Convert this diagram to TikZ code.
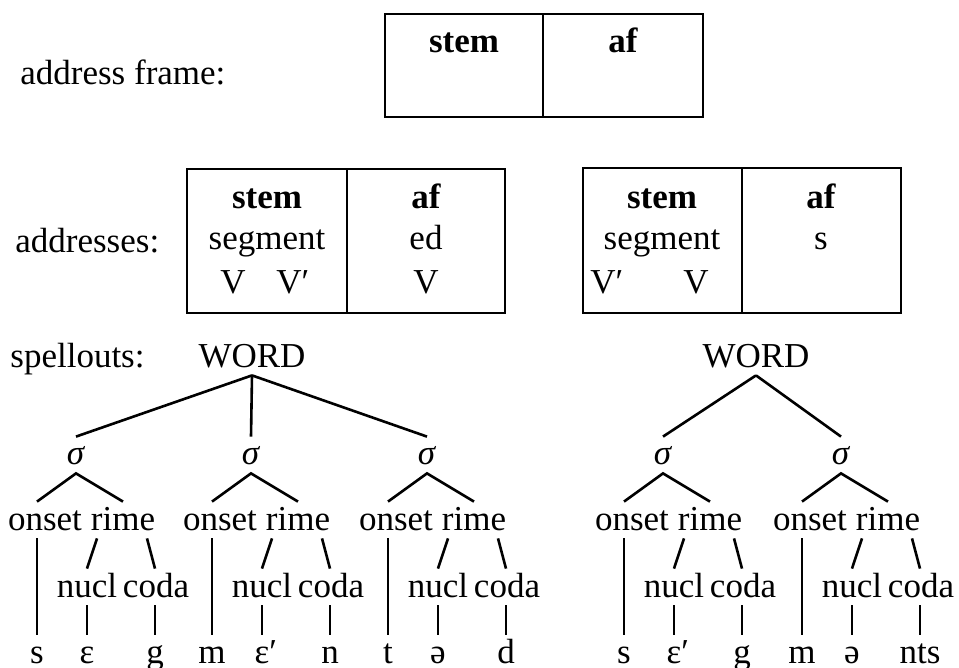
\documentclass[tikz,border=0pt]{standalone}
\usepackage{fontspec}
\setmainfont{Liberation Serif}
\usetikzlibrary{calc,positioning}

\tikzset{
  txt/.style = {anchor=base, inner sep=0pt, font=\fontsize{17.5}{20}\selectfont},
  hd/.style  = {txt, font=\fontsize{17.5}{20}\selectfont\bfseries},
  lev/.style = {txt, text height=14pt, text depth=4pt},
  bx/.style  = {line width=1.2pt},
  br/.style  = {line width=1.3pt},
}

\begin{document}
\begin{tikzpicture}[x=0.5pt, y=-0.5pt]
\useasboundingbox (0,0) rectangle (959,668);

% row labels
\node[txt, anchor=base west] (lframe) at (20,85) {address frame:};
\node[txt, anchor=base west] (laddr) at (15,253) {addresses:};
\node[txt, anchor=base west] (lspell) at (10,367) {spellouts:};

% empty address frame
\draw[bx] (385,14) rectangle (703,117) (543,14) -- (543,117);
\node[hd] (fstem) at (464,53) {stem};
\node[hd] (faf) at (623,53) {af};

% first address
\draw[bx] (187,169) rectangle (505,313) (347,169) -- (347,313);
\node[hd] (astem) at (267,209) {stem};
\node[txt] (aseg) at (267,250) {segment};
\node[txt] (av1) at (233,294) {V};
\node[txt] (av2) at (289,294) {V\rlap{′}};
\node[hd] (aaf) at (426,209) {af};
\node[txt] (aed) at (426,250) {ed};
\node[txt] (av3) at (426,294) {V};

% second address
\draw[bx] (583,168) rectangle (901,313) (742,168) -- (742,313);
\node[hd] (bstem) at (662,209) {stem};
\node[txt] (bseg) at (662,250) {segment};
\node[txt] (bv1) at (603,294) {V\rlap{′}};
\node[txt] (bv2) at (696,294) {V};
\node[hd] (baf) at (821,209) {af};
\node[txt] (bs) at (821,250) {s};

% spellouts
\node[lev] (wd1) at (252,367) {WORD};
\node[lev] (wd2) at (756,367) {WORD};

% one syllable per entry: number / onset line x / onset / nucleus / coda
\foreach \i/\o/\a/\b/\c in {1/37/s/ɛ/g, 2/212/m/ɛ\rlap{′}/n, 3/388/t/ə/d,
                           4/624/s/ɛ\rlap{′}/g, 5/802/m/ə/nts} {
  \node[lev] (sg\i) at (\o+39,465) {\textit{σ}};
  \node[lev] (on\i) at (\o+8,530) {onset};
  \node[lev] (ri\i) at (\o+86,530) {rime};
  \node[lev] (nu\i) at (\o+50,597) {nucl};
  \node[lev] (co\i) at (\o+119,597) {coda};
  \node[lev] (so\i) at (\o,663) {\a};
  \node[lev] (sn\i) at (\o+50,663) {\b};
  \node[lev] (sc\i) at (\o+118,663) {\c};
  \draw[br] (on\i.north -| so\i) -- (sg\i.south) -- (ri\i.north);
  \draw[br] (on\i.south -| so\i) -- (so\i.north);
  \draw[br] ($(nu\i.north |- ri\i.south)+(10,0)$) -- (nu\i.north);
  \draw[br] ($(sc\i.north |- ri\i.south)+(-8,0)$) -- (sc\i.north |- co\i.north);
  \draw[br] (nu\i.south) -- (sn\i.north);
  \draw[br] (sc\i.north |- co\i.south) -- (sc\i.north);
}

\foreach \s in {1,2,3} \draw[br] (wd1.south) -- (sg\s.north);
\foreach \s in {4,5} \draw[br] (wd2.south) -- (sg\s.north);
\end{tikzpicture}
\end{document}
